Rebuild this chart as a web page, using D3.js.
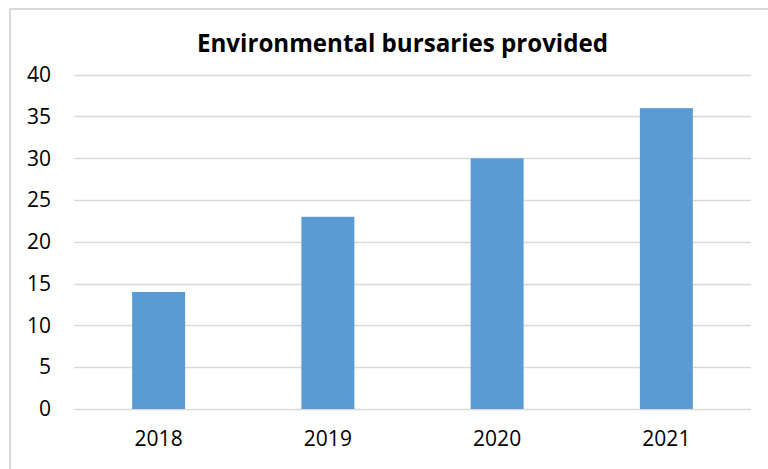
<!DOCTYPE html>
<html>
<head>
<meta charset="utf-8">
<script src="https://cdn.jsdelivr.net/npm/d3@7"></script>
<style>
  html, body { margin: 0; padding: 0; background: #fff; }
  svg { display: block; }
</style>
</head>
<body>
<svg id="chart" width="768" height="469"></svg>
<script>
const title = "Environmental bursaries provided";
const categories = ["2018", "2019", "2020", "2021"];
const values = [14, 23, 30, 36];
const yTicks = [0, 5, 10, 15, 20, 25, 30, 35, 40];

const W = 768, H = 469;
const svg = d3.select("#chart");
const font = "'Open Sans', 'Liberation Sans', sans-serif";

// outer chart border (cropped on right / bottom)
svg.append("path")
  .attr("d", `M10,${H + 5} L10,9 L${W + 5},9`)
  .attr("fill", "none")
  .attr("stroke", "#D9D9D9")
  .attr("stroke-width", 2);

const plot = { left: 74, right: 751, top: 74.7, bottom: 409 };

const x = d3.scaleBand()
  .domain(categories)
  .range([plot.left, plot.right])
  .paddingInner(0.687)
  .paddingOuter(0.3435);

const y = d3.scaleLinear()
  .domain([0, 40])
  .range([plot.bottom, plot.top]);

// gridlines
svg.append("g")
  .selectAll("line")
  .data(yTicks)
  .join("line")
  .attr("x1", plot.left)
  .attr("x2", plot.right)
  .attr("y1", d => Math.round(y(d)) + 0.5)
  .attr("y2", d => Math.round(y(d)) + 0.5)
  .attr("stroke", "#D9D9D9")
  .attr("stroke-width", 1.5);

// y-axis labels
const yAxis = d3.axisLeft(y).tickValues(yTicks).tickSize(0).tickPadding(0);
svg.append("g")
  .attr("transform", `translate(51,0)`)
  .call(yAxis)
  .call(g => g.select(".domain").remove())
  .selectAll("text")
  .attr("font-family", font)
  .attr("font-size", 21)
  .attr("fill", "#000");

// bars
svg.append("g")
  .selectAll("rect")
  .data(categories.map((c, i) => ({ c, v: values[i] })))
  .join("rect")
  .attr("x", d => x(d.c))
  .attr("width", x.bandwidth())
  .attr("y", d => y(d.v))
  .attr("height", d => y(0) - y(d.v))
  .attr("fill", "#5B9BD5");

// x-axis labels
const xAxis = d3.axisBottom(x).tickSize(0).tickPadding(0);
svg.append("g")
  .attr("transform", `translate(0,${plot.bottom + 22})`)
  .call(xAxis)
  .call(g => g.select(".domain").remove())
  .selectAll("text")
  .attr("font-family", font)
  .attr("font-size", 21)
  .attr("fill", "#000");

// title
svg.append("text")
  .attr("x", 402.5)
  .attr("y", 52)
  .attr("text-anchor", "middle")
  .attr("font-family", font)
  .attr("font-weight", "bold")
  .attr("font-size", 25)
  .attr("textLength", 411)
  .attr("lengthAdjust", "spacingAndGlyphs")
  .attr("fill", "#000")
  .text(title);
</script>
</body>
</html>
